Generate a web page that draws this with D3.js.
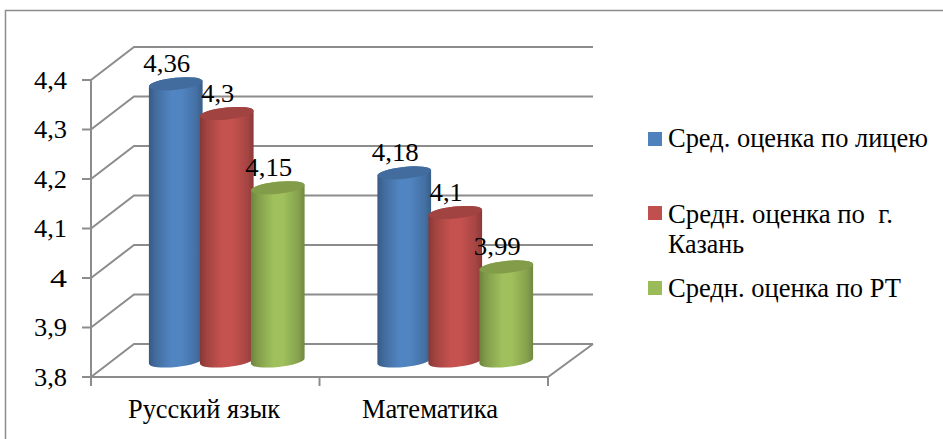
<!DOCTYPE html>
<html><head><meta charset="utf-8">
<script src="https://cdnjs.cloudflare.com/ajax/libs/d3/7.8.5/d3.min.js"></script>
<style>html,body{margin:0;padding:0;background:#fff}svg{display:block}</style>
</head><body><div id="c"></div>
<script>
const categories = ["Русский язык", "Математика"];
const seriesNames = ["Сред. оценка по лицею", "Средн. оценка по  г. Казань", "Средн. оценка по РТ"];
const lyceum = [4.36, 4.18];
const kazan = [4.3, 4.1];
const tatarstan = [4.15, 3.99];
const valueLabels = [["4,36","4,18"],["4,3","4,1"],["4,15","3,99"]];
const tickValues = [3.8,3.9,4.0,4.1,4.2,4.3,4.4];
const tickLabels = ["3,8","3,9","4","4,1","4,2","4,3","4,4"];
const colors = ["#4F81BD","#C0504D","#9BBB59"];

const W=943,H=439;
const svg=d3.select("#c").append("svg").attr("width",W).attr("height",H);
const defs=svg.append("defs");
colors.forEach((c,i)=>{
  const g=defs.append("linearGradient").attr("id","cyl"+i).attr("x1",0).attr("x2",1).attr("y1",0).attr("y2",0);
  const base=d3.color(c);
  [[0,base.darker(1.0)],[0.12,base.darker(0.5)],[0.42,base.brighter(0.08)],[0.6,base.brighter(0.08)],[0.88,base.darker(0.4)],[1,base.darker(0.9)]]
    .forEach(([o,col])=>g.append("stop").attr("offset",o).attr("stop-color",col.formatHex()));
});
const gridCol="#8c8c8c";
svg.append("path").attr("d",d3.line()([[5.5,H],[5.5,10.5],[W,10.5]])).attr("fill","none").attr("stroke","#8c8c8c").attr("stroke-width",1.5);

const x=d3.scaleBand().domain(categories).range([91,548]);
const y=d3.scaleLinear().domain([3.8,4.4]).range([377,80]);
const depth={dx:43,dy:-33};

const wall=svg.append("g").attr("fill","none").attr("stroke",gridCol).attr("stroke-width",2);
tickValues.forEach(v=>{
  const py=y(v);
  wall.append("path").attr("d",d3.line()([[91,py],[91+depth.dx,py+depth.dy],[593,py+depth.dy]]));
});
wall.append("path").attr("d",d3.line()([[91,377],[548,377],[593,344]]));
wall.append("path").attr("d",d3.line()([[91,y(4.4)],[91,377]]));
const tk=svg.append("g").attr("stroke",gridCol).attr("stroke-width",2);
tickValues.forEach(v=>tk.append("line").attr("x1",82).attr("x2",91).attr("y1",y(v)).attr("y2",y(v)));
x.domain().concat(null).forEach(c=>{
  const px=c===null?x.range()[1]:x(c);
  tk.append("line").attr("x1",px).attr("x2",px).attr("y1",377).attr("y2",386);
});
svg.append("g").selectAll("text").data(tickValues).join("text")
  .attr("x",67).attr("y",d=>y(d)+8.5).attr("text-anchor","end").style("font-size","26px")
  .attr("textLength",(d,i)=>tickLabels[i].length===1?17:33).attr("lengthAdjust","spacingAndGlyphs")
  .text((d,i)=>tickLabels[i]);
const catW=[152,136];
svg.append("g").selectAll("text").data(categories).join("text")
  .attr("x",(c,i)=>[204,430][i]).attr("y",418).attr("text-anchor","middle").style("font-size","26.5px")
  .attr("textLength",(d,i)=>catW[i]).attr("lengthAdjust","spacingAndGlyphs")
  .text(d=>d);

const series=[lyceum,kazan,tatarstan];
const sub=d3.scaleBand().domain([0,1,2]).range([-76.5,76.5]);
const rx=27,ry=6,rot=-6;
const cs=Math.cos(rot*Math.PI/180)*rx, sn=Math.sin(rot*Math.PI/180)*rx;
const bars=svg.append("g");
const labels=svg.append("g");
categories.forEach((c,ci)=>{
  series.forEach((vals,si)=>{
    const cx=x(c)+x.bandwidth()/2+depth.dx/2+sub(si)+sub.bandwidth()/2;
    const top=y(vals[ci])-16, bot=y(3.8)-16;
    const g=bars.append("g");
    g.append("path").attr("fill",`url(#cyl${si})`)
      .attr("d",`M${cx-cs},${top-sn}L${cx-cs},${bot-sn}A${rx},${ry} ${rot} 0 0 ${cx+cs},${bot+sn}L${cx+cs},${top+sn}A${rx},${ry} ${rot} 0 0 ${cx-cs},${top-sn}Z`);
    g.append("ellipse").attr("cx",0).attr("cy",0).attr("rx",rx).attr("ry",ry)
      .attr("transform",`translate(${cx},${top}) rotate(${rot})`)
      .attr("fill",d3.color(colors[si]).darker(0.5).formatHex());
    const t=valueLabels[si][ci];
    labels.append("text").attr("x",cx-9).attr("y",top-12).attr("text-anchor","middle").style("font-size","26px")
      .attr("textLength",t.length===4?47:33).attr("lengthAdjust","spacingAndGlyphs")
      .text(t);
  });
});

const legendY=[132,206,281];
const legendLines=[[["Сред. оценка по лицею",147,260]],[["Средн. оценка по  г.",223,225],["Казань",253,76]],[["Средн. оценка по РТ",297,233]]];
const lg=svg.append("g");
seriesNames.forEach((n,i)=>{
  lg.append("rect").attr("x",648).attr("y",legendY[i]).attr("width",14).attr("height",14).attr("fill",colors[i]);
  legendLines[i].forEach(([t,by,w])=>lg.append("text").attr("x",668).attr("y",by).style("font-size","26.5px")
    .attr("textLength",w).attr("lengthAdjust","spacingAndGlyphs").style("white-space","pre").text(t));
});
svg.selectAll("text").style("font-family",'"Times New Roman"').style("fill","#000");
</script></body></html>
